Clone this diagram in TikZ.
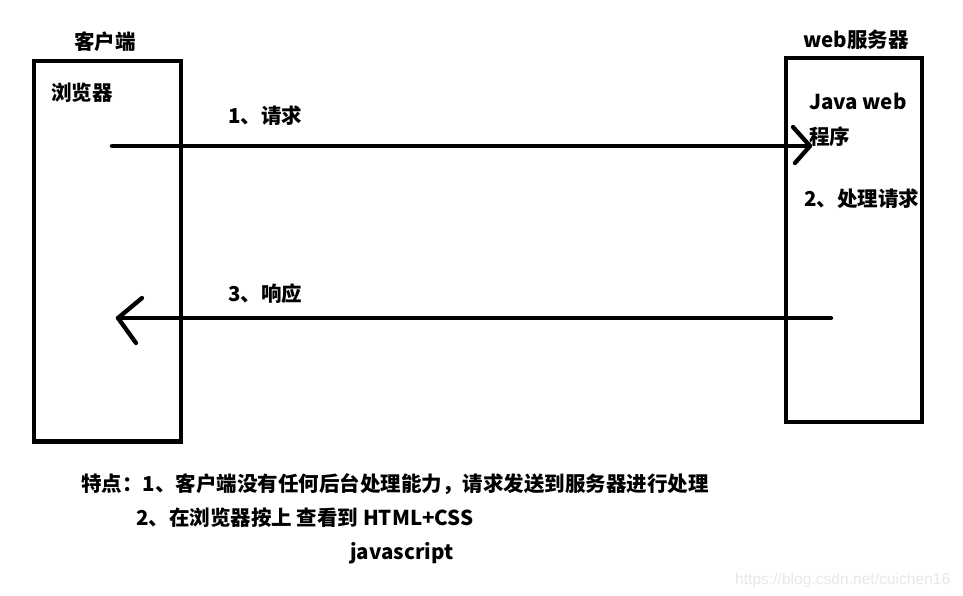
\documentclass[tikz,border=0pt]{standalone}
\usepackage{fontspec}
\setmainfont{Noto Sans CJK SC}
\newfontfamily\wmfont{Liberation Sans}
\begin{document}
\begin{tikzpicture}[x=1pt,y=-1pt,
  box/.style={draw, line width=4.5pt, inner sep=0pt, outer sep=0pt},
  lbl/.style={anchor=base west, inner sep=0pt, font=\fontsize{20.5}{24}\selectfont\bfseries},
  conn/.style={line width=4.3pt, line cap=round, line join=round}]
\useasboundingbox (0,0) rectangle (963,596);
\fill[white] (0,0) rectangle (963,596);
% boxes
\node[box, minimum width=147pt, minimum height=380.5pt] (client) at (107.5,251.25) {};
\node[box, minimum width=136pt, minimum height=364pt] (server) at (854,240) {};
% titles and labels
\node[lbl] (tclient) at (74,50) {客户端};
\node[lbl] (tserver) at (803,47.5) {web服务器};
\node[lbl] (browser) at (51,100.5) {浏览器};
\node[lbl] (req) at (228,123.5) {1、请求};
\node[lbl] (java) at (809,109.5) {Java web};
\node[lbl] (prog) at (809,144.5) {程序};
\node[lbl] (proc) at (804,206.5) {2、处理请求};
\node[lbl] (resp) at (228,301.5) {3、响应};
\node[lbl] (note1) at (81,491.5) {特点：1、客户端没有任何后台处理能力，请求发送到服务器进行处理};
\node[lbl] (note2) at (136,525.5) {2、在浏览器按上 查看到 HTML+CSS};
\node[lbl] (note3) at (350,559) {javascript};
\node[anchor=base west, inner sep=0pt, text=black!9, font=\wmfont\fontsize{15.6}{18}\selectfont] (wm) at (735,584) {https://blog.csdn.net/cuichen16};
% connectors
\coordinate (a1s) at (112,146);
\coordinate (a1e) at (810,146);
\coordinate (a2s) at (831,318);
\coordinate (a2e) at (118,318);
\draw[conn] (a1s) -- (a1e);
\draw[conn] ([shift={(-17,-19)}]a1e) -- (a1e) -- ([shift={(-15,17)}]a1e);
\draw[conn] (a2s) -- (a2e);
\draw[conn] ([shift={(24,-20)}]a2e) -- (a2e) -- ([shift={(18,25)}]a2e);
\end{tikzpicture}
\end{document}
